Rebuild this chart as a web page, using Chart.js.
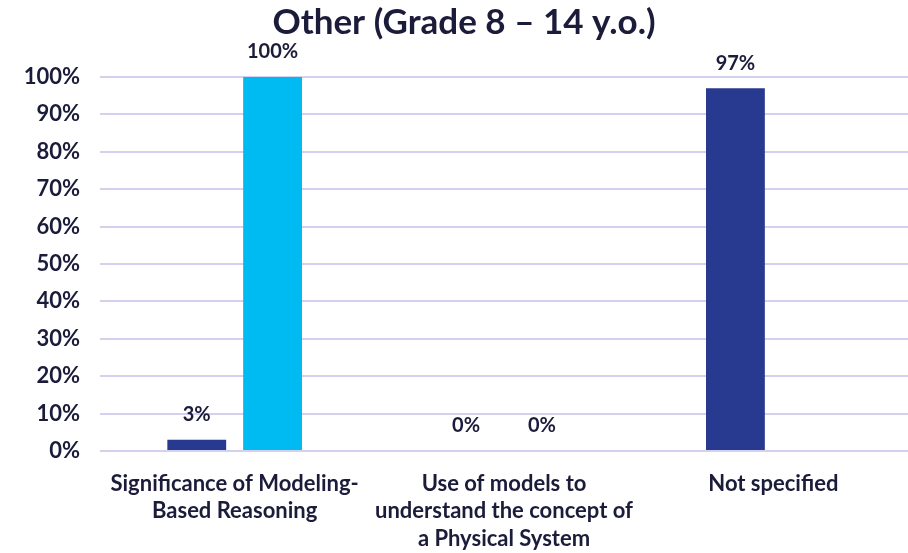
<!DOCTYPE html>
<html>
<head>
<meta charset="utf-8">
<script src="https://cdn.jsdelivr.net/npm/chart.js@4/dist/chart.umd.min.js"></script>
<style>
  html, body { margin: 0; padding: 0; background: #ffffff; }
  #wrap { width: 908px; height: 553px; }
</style>
</head>
<body>
<div id="wrap"><canvas id="chart" width="908" height="553"></canvas></div>
<script>
// ---- data ----
const categories = [
    ['Significance of Modeling-', 'Based Reasoning'],
    ['Use of models to', 'understand the concept of', 'a Physical System'],
    'Not specified'
];
const seriesDark = [3, 0, 97];
const seriesLight = [100, 0, null];
const yTicks = [0, 10, 20, 30, 40, 50, 60, 70, 80, 90, 100];

const TEXT = '#1b1b3a';
const FONT = 'Lato, "Open Sans", sans-serif';

// labels above each bar
const valueLabels = {
    id: 'valueLabels',
    afterDatasetsDraw(chart) {
        const ctx = chart.ctx;
        ctx.save();
        ctx.font = 'bold 20px ' + FONT;
        ctx.fillStyle = TEXT;
        ctx.textAlign = 'center';
        ctx.textBaseline = 'middle';
        chart.data.datasets.forEach((ds, di) => {
            chart.getDatasetMeta(di).data.forEach((bar, i) => {
                const v = ds.data[i];
                if (v === null || v === undefined) return;
                ctx.fillText(v + '%', bar.x, bar.y - 25);
            });
        });
        ctx.restore();
    }
};

new Chart(document.getElementById('chart').getContext('2d'), {
    type: 'bar',
    data: {
        labels: categories,
        datasets: [
            {
                data: seriesDark,
                backgroundColor: '#283a8f',
                categoryPercentage: 0.563,
                barPercentage: 0.776
            },
            {
                data: seriesLight,
                backgroundColor: '#00baf2',
                categoryPercentage: 0.563,
                barPercentage: 0.776
            }
        ]
    },
    options: {
        responsive: false,
        animation: false,
        // left padding nudges the title right; y axis width makes up the rest
        layout: { padding: { left: 20, top: 0, right: 0, bottom: 0 } },
        scales: {
            x: {
                grid: { display: false },
                border: { display: false },
                ticks: {
                    color: TEXT,
                    font: { family: FONT, size: 22, weight: 'bold', lineHeight: 1.25 },
                    padding: 11,
                    maxRotation: 0,
                    autoSkip: false
                },
                afterFit: (scale) => { scale.height = 102; }
            },
            y: {
                min: 0,
                max: 100,
                afterBuildTicks: (scale) => { scale.ticks = yTicks.map(v => ({ value: v })); },
                grid: { color: '#d4d0f0', lineWidth: 2, drawTicks: false },
                border: { display: false },
                ticks: {
                    color: TEXT,
                    font: { family: FONT, size: 22, weight: 'bold' },
                    padding: 20,
                    callback: (v) => v + '%'
                },
                afterFit: (scale) => { scale.width = 80; }
            }
        },
        plugins: {
            legend: { display: false },
            tooltip: { enabled: false },
            title: {
                display: true,
                text: 'Other (Grade 8 – 14 y.o.)',
                color: TEXT,
                font: { family: FONT, size: 35, weight: 'bold' },
                padding: { top: 2, bottom: 33 }
            }
        }
    },
    plugins: [valueLabels]
});
</script>
</body>
</html>
